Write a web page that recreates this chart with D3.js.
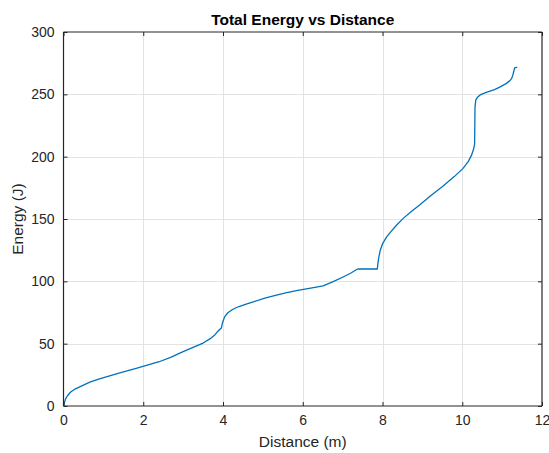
<!DOCTYPE html>
<html><head><meta charset="utf-8">
<script src="https://cdn.jsdelivr.net/npm/d3@7"></script>
<style>body{margin:0;background:#fff;}svg{display:block;font-family:"Liberation Sans",Arial,sans-serif;}</style>
</head><body>
<svg id="c" width="549" height="453"></svg>
<script>
const distance = [0,0.02,0.05,0.1,0.18,0.3,0.46,0.66,0.9,1.2,1.5,1.8,2.1,2.4,2.7,3.0,3.25,3.5,3.67,3.8,3.88,3.93,3.96,3.99,4.04,4.12,4.25,4.4,4.58,4.76,5.05,5.34,5.6,5.84,6.2,6.51,6.75,7.01,7.2,7.35,7.38,7.87,7.88,7.9,7.94,8.0,8.1,8.2,8.35,8.52,8.7,8.93,9.2,9.52,9.8,10.02,10.15,10.23,10.28,10.31,10.32,10.34,10.38,10.45,10.6,10.81,10.94,11.1,11.19,11.24,11.27,11.3,11.32,11.38];
const energy   = [0,2.5,5.5,8.2,11.2,13.8,16.2,19.2,21.8,24.6,27.3,30,32.7,35.5,39.2,43.6,47,50.5,53.8,57.2,60.2,61.8,62.6,67,71.5,74.8,77.6,79.8,81.8,83.6,86.5,89,91,92.5,94.5,96.3,99.5,103.5,106.5,109.5,109.9,109.9,113,118,124.5,130,135.5,139.5,145,150.5,155.5,161.2,168.5,176.5,184,190.6,196,201,205.5,210,240,245.5,247.6,249.5,251.5,253.8,255.8,258.6,260.8,262.8,265.5,269.5,271.5,271.7];
const xTicks = [0,2,4,6,8,10,12];
const yTicks = [0,50,100,150,200,250,300];
const titleText = "Total Energy vs Distance";
const xLabel = "Distance (m)";
const yLabel = "Energy (J)";

(function(){
const svg = d3.select("#c");
const L = 63.5, R = 542, T = 32, B = 406;
const x = d3.scaleLinear().domain([0,12]).range([L,R]);
const y = d3.scaleLinear().domain([0,300]).range([B,T]);
const axisColor = "#262626";

const g = svg.append("g");
g.selectAll(".gx").data(xTicks.slice(1,-1)).enter().append("line")
  .attr("x1",d=>Math.round(x(d))+0.5).attr("x2",d=>Math.round(x(d))+0.5).attr("y1",T).attr("y2",B)
  .attr("stroke","#e3e3e3").attr("stroke-width",1);
g.selectAll(".gy").data(yTicks.slice(1,-1)).enter().append("line")
  .attr("y1",d=>Math.round(y(d))+0.5).attr("y2",d=>Math.round(y(d))+0.5).attr("x1",L).attr("x2",R)
  .attr("stroke","#e3e3e3").attr("stroke-width",1);

svg.append("path").datum(energy).attr("d", d3.line().x((d,i)=>x(distance[i])).y(d=>y(d)))
  .attr("fill","none").attr("stroke","#0072BD").attr("stroke-width",1.3).attr("stroke-linejoin","round");

const fs = 14;
const axB = svg.append("g").attr("transform",`translate(0,${B})`)
  .call(d3.axisBottom(x).tickValues(xTicks).tickSize(-4).tickPadding(9).tickFormat(d3.format("d")));
const axT = svg.append("g").attr("transform",`translate(0,${T})`)
  .call(d3.axisTop(x).tickValues(xTicks).tickSize(-4).tickFormat(""));
const axL = svg.append("g").attr("transform",`translate(${L},0)`)
  .call(d3.axisLeft(y).tickValues(yTicks).tickSize(-4).tickPadding(9).tickFormat(d3.format("d")));
const axR = svg.append("g").attr("transform",`translate(${R},0)`)
  .call(d3.axisRight(y).tickValues(yTicks).tickSize(-4).tickFormat(""));
[axB,axT,axL,axR].forEach(a=>{
  a.selectAll("path").attr("stroke",axisColor).attr("stroke-width",1.2);
  a.selectAll("line").attr("stroke",axisColor);
  a.selectAll("text").attr("fill",axisColor).attr("font-size",fs).attr("font-family","Liberation Sans, Arial, sans-serif");
});
axB.selectAll("path").attr("d",`M${L},0H${R}`);
axT.selectAll("path").attr("d",`M${L},0H${R}`);
axL.selectAll("path").attr("d",`M0,${T}V${B}`);
axR.selectAll("path").attr("d",`M0,${T}V${B}`);

svg.append("text").attr("x",(L+R)/2).attr("y",25).attr("text-anchor","middle")
  .attr("font-weight","bold").attr("font-size",15.5).attr("fill","#000").text(titleText);
svg.append("text").attr("x",(L+R)/2).attr("y",447).attr("text-anchor","middle")
  .attr("font-size",15.5).attr("fill",axisColor).text(xLabel);
svg.append("text").attr("transform",`translate(23,${(T+B)/2}) rotate(-90)`).attr("text-anchor","middle")
  .attr("font-size",15.5).attr("fill",axisColor).text(yLabel);
})();
</script>
</body></html>
